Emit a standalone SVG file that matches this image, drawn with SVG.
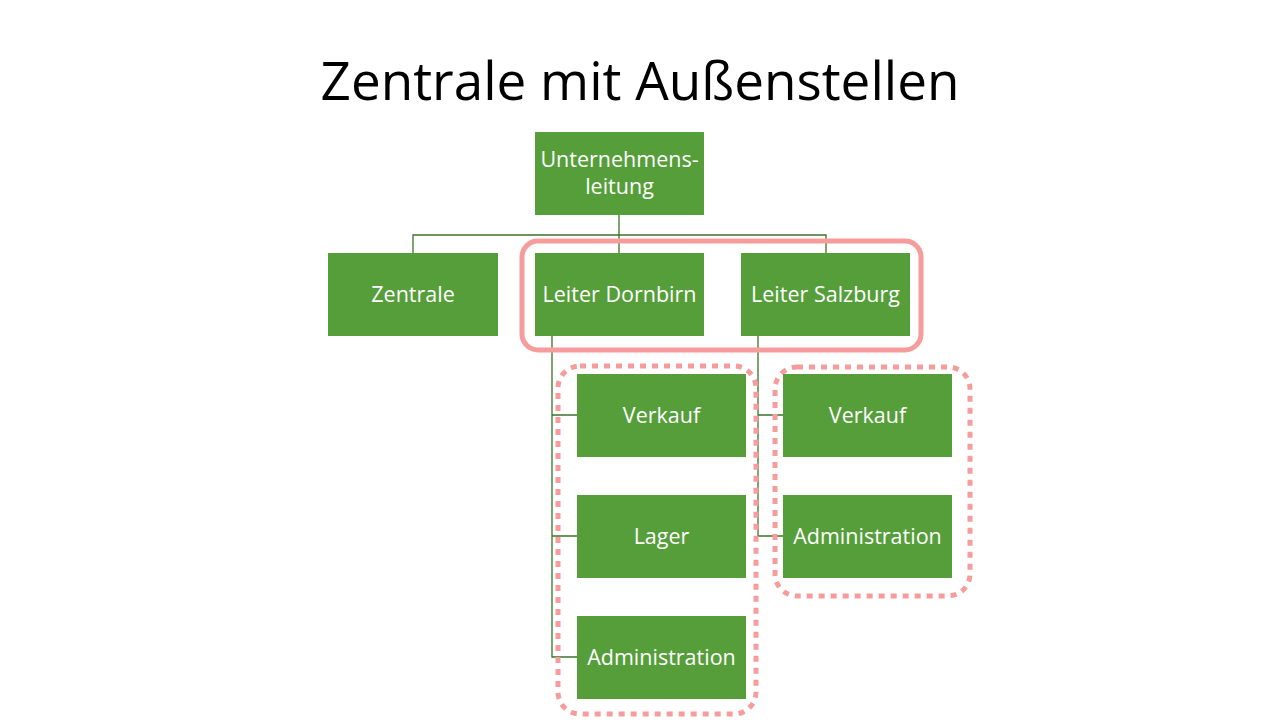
<svg xmlns="http://www.w3.org/2000/svg" width="1280" height="720" viewBox="0 0 1280 720">
<style>
.node rect{fill:#559E3A}
.node text{fill:#fff;font-family:"Open Sans","Liberation Sans",sans-serif;font-size:21.5px;text-anchor:middle}
.conn{stroke:#3A7327;stroke-width:1.3;fill:none}
.hl{fill:none;stroke:#F79C9C;stroke-width:5}
.dot{stroke-dasharray:6 6}
</style>
<rect width="1280" height="720" fill="#fff"/>
<text x="640" y="100" font-family="Open Sans,Liberation Sans,sans-serif" font-size="53" text-anchor="middle" fill="#000">Zentrale mit Außenstellen</text>
<g id="connectors">
<path class="conn" d="M619 215V253M413 253V235H826V253"/>
<path class="conn" d="M552 336V657H577M552 415H577M552 536H577"/>
<path class="conn" d="M758 336V536H783M758 415H783"/>
</g>
<g id="highlights">
<rect class="hl" x="522" y="241" width="399" height="109" rx="16"/>
<rect class="hl dot" x="558" y="366" width="198" height="348" rx="22"/>
<rect class="hl dot" x="775" y="367" width="195" height="229" rx="22"/>
</g>
<g id="n-top" class="node"><rect x="535" y="132" width="169" height="83"/><text x="619.5" y="167">Unternehmens-</text><text x="619.5" y="194">leitung</text></g>
<g id="n-zentrale" class="node"><rect x="328" y="253" width="170" height="83"/><text x="413" y="302">Zentrale</text></g>
<g id="n-dornbirn" class="node"><rect x="535" y="253" width="169" height="83"/><text x="619.5" y="302">Leiter Dornbirn</text></g>
<g id="n-salzburg" class="node"><rect x="741" y="253" width="169" height="83"/><text x="825.5" y="302">Leiter Salzburg</text></g>
<g id="n-d-verkauf" class="node"><rect x="577" y="374" width="169" height="83"/><text x="661.5" y="423">Verkauf</text></g>
<g id="n-d-lager" class="node"><rect x="577" y="495" width="169" height="83"/><text x="661.5" y="544">Lager</text></g>
<g id="n-d-admin" class="node"><rect x="577" y="616" width="169" height="83"/><text x="661.5" y="665">Administration</text></g>
<g id="n-s-verkauf" class="node"><rect x="783" y="374" width="169" height="83"/><text x="867.5" y="423">Verkauf</text></g>
<g id="n-s-admin" class="node"><rect x="783" y="495" width="169" height="83"/><text x="867.5" y="544">Administration</text></g>
</svg>
